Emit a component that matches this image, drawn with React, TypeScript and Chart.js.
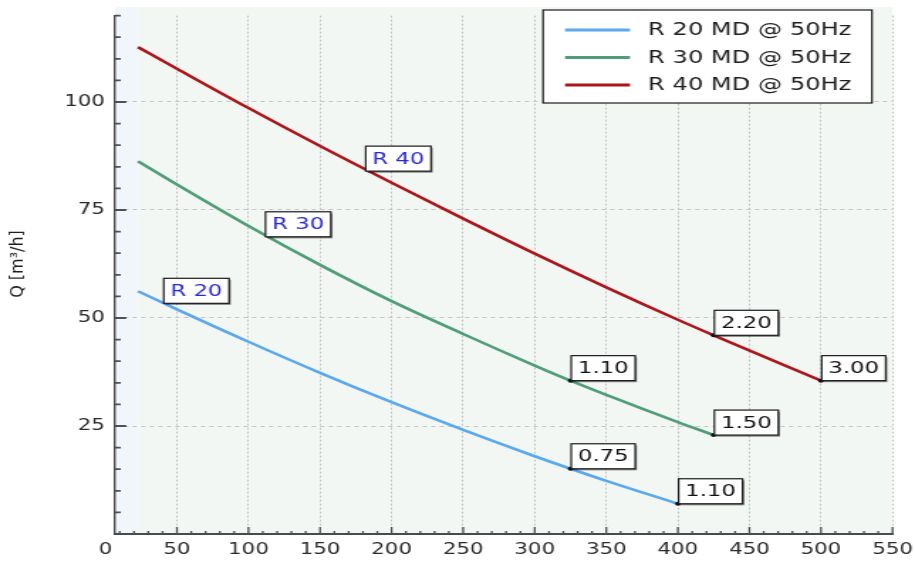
import React, { useEffect, useRef } from 'react';
import { Chart, registerables } from 'chart.js';

Chart.register(...registerables);

// The reference is a horizontally stretched picture: draw at CANVAS_W and stretch to VIEW_W.
const VIEW_W = 915;
const VIEW_H = 561;
const CANVAS_W = 644;
const FONT = '"DejaVu Sans", Verdana, sans-serif';

// ---- data ----
const seriesLabels = ['R 20 MD @ 50Hz', 'R 30 MD @ 50Hz', 'R 40 MD @ 50Hz'];
const seriesColors = ['#5aa8ef', '#4f9e78', '#ad151a'];

const r20X = [22.8, 50, 100, 150, 200, 250, 300, 325, 350, 400];
const r20Y = [56.2, 52.0, 44.5, 37.3, 30.5, 24.1, 18.0, 15.1, 12.3, 7.0];
const r30X = [22.8, 50, 100, 150, 200, 250, 300, 325, 350, 400, 425];
const r30Y = [86.3, 80.9, 71.3, 62.3, 53.9, 46.3, 39.0, 35.5, 32.2, 25.9, 22.9];
const r40X = [22.8, 50, 100, 150, 200, 250, 300, 350, 400, 425, 500];
const r40Y = [112.7, 107.7, 98.6, 89.8, 81.3, 73.0, 64.9, 57.1, 49.6, 46.0, 35.5];

// power labels (kW) at points of the curves
const powerSeries = [0, 0, 1, 1, 2, 2];
const powerX = [325, 400, 325, 425, 425, 500];
const powerText = ['0.75', '1.10', '1.10', '1.50', '2.20', '3.00'];

// model tags
const tagText = ['R 20', 'R 30', 'R 40'];
const tagX = [40.3, 111.4, 181.4];
const tagY = [53.4, 68.8, 84.0];

// axes
const xMin = 6.7;
const xMax = 550;
const plotStartX = 22.8;
const xLabelTicks = [0, 50, 100, 150, 200, 250, 300, 350, 400, 450, 500, 550];
const xMinorStep = 10;
const yMin = 0;
const yMax = 120;
const yLabelTicks = [25, 50, 75, 100];
const yMinorStep = 5;
const yTitle = 'Q [m³/h]';

const seriesX = [r20X, r30X, r40X];
const seriesY = [r20Y, r30Y, r40Y];

function buildTicks(from: number, to: number, step: number) {
  const out: { value: number }[] = [];
  for (let v = from; v <= to + 1e-9; v += step) out.push({ value: v });
  return out;
}

function drawBox(ctx: CanvasRenderingContext2D, px: number, py: number, text: string, color: string) {
  ctx.font = `16px ${FONT}`;
  const tw = ctx.measureText(text).width;
  const pad = 4.7;
  const w = tw + pad * 2;
  const h = 25;
  const left = px + 0.5;
  const top = py - h;
  ctx.fillStyle = 'rgba(0,0,0,0.45)';
  ctx.fillRect(left + 1.2, top + 1.6, w, h);
  ctx.fillStyle = '#ffffff';
  ctx.fillRect(left, top, w, h);
  ctx.strokeStyle = '#1a1a1a';
  ctx.lineWidth = 1.2;
  ctx.strokeRect(left, top, w, h);
  ctx.fillStyle = color;
  ctx.textAlign = 'left';
  ctx.textBaseline = 'middle';
  ctx.fillText(text, left + pad, top + h / 2 + 1);
}

const decor = {
  id: 'decor',
  beforeDraw(chart: any) {
    const { ctx, chartArea: ca, scales } = chart;
    const x = scales.x;
    const y = scales.y;
    const xs = x.getPixelForValue(plotStartX);
    const top = y.getPixelForValue(122);
    ctx.save();
    ctx.fillStyle = '#f1f6fc';
    ctx.fillRect(ca.left, top, xs - ca.left, ca.bottom - top);
    ctx.fillStyle = '#f3f7f3';
    ctx.fillRect(xs, top, ca.right - xs, ca.bottom - top);
    ctx.restore();
  },
  afterDraw(chart: any) {
    const { ctx, chartArea: ca, scales } = chart;
    const x = scales.x;
    const y = scales.y;
    ctx.save();
    // inside tick marks
    ctx.strokeStyle = '#505050';
    ctx.lineWidth = 1.3;
    ctx.beginPath();
    x.ticks.forEach((t: any) => {
      if (t.value <= xMin || t.value > xMax) return;
      const px = x.getPixelForValue(t.value);
      const len = xLabelTicks.includes(t.value) ? 7 : 3;
      ctx.moveTo(px, ca.bottom);
      ctx.lineTo(px, ca.bottom - len);
    });
    ctx.stroke();
    ctx.lineWidth = 1.8;
    ctx.beginPath();
    y.ticks.forEach((t: any) => {
      if (t.value <= yMin) return;
      const py = y.getPixelForValue(t.value);
      const len = yLabelTicks.includes(t.value) ? 8 : 4;
      ctx.moveTo(ca.left, py);
      ctx.lineTo(ca.left + len, py);
    });
    ctx.stroke();

    // y axis title (narrow glyphs, as in the reference)
    ctx.save();
    ctx.translate(12.4, 264);
    ctx.rotate(-Math.PI / 2);
    ctx.scale(1, 0.78);
    ctx.font = `16px ${FONT}`;
    ctx.fillStyle = '#1e1e1e';
    ctx.textAlign = 'center';
    ctx.textBaseline = 'middle';
    ctx.fillText(yTitle, 0, 0);
    ctx.restore();

    // model tags
    tagText.forEach((txt, i) => {
      drawBox(ctx, x.getPixelForValue(tagX[i]), y.getPixelForValue(tagY[i]), txt, '#2a2ad4');
    });
    // power labels
    powerText.forEach((txt, k) => {
      const s = powerSeries[k];
      const idx = seriesX[s].indexOf(powerX[k]);
      drawBox(ctx, x.getPixelForValue(powerX[k]), y.getPixelForValue(seriesY[s][idx]), txt, '#111111');
    });

    // legend
    const lw = 231.5;
    const lh = 93;
    const lx = ca.right - 246.0;
    const ly = ca.top - 5.6;
    ctx.fillStyle = '#ffffff';
    ctx.fillRect(lx, ly, lw, lh);
    ctx.strokeStyle = '#1a1a1a';
    ctx.lineWidth = 1.2;
    ctx.strokeRect(lx, ly, lw, lh);
    ctx.font = `17px ${FONT}`;
    ctx.textAlign = 'left';
    ctx.textBaseline = 'middle';
    chart.data.datasets.forEach((ds: any, i: number) => {
      const cy = ly + 20 + i * 27.5;
      ctx.strokeStyle = ds.borderColor;
      ctx.lineWidth = 2.8;
      ctx.beginPath();
      ctx.moveTo(lx + 15.5, cy);
      ctx.lineTo(lx + 61.2, cy);
      ctx.stroke();
      ctx.fillStyle = '#1e1e1e';
      ctx.fillText(ds.label, lx + 73.9, cy + 1);
    });
    ctx.restore();
  },
};

export default function App() {
  const ref = useRef<HTMLCanvasElement>(null);

  useEffect(() => {
    const canvas = ref.current;
    if (!canvas) return;
    Chart.defaults.font.family = FONT;

    const datasets = seriesLabels.map((label, i) => ({
      label,
      data: seriesX[i].map((xv, j) => ({ x: xv, y: seriesY[i][j] })),
      borderColor: seriesColors[i],
      backgroundColor: seriesColors[i],
      borderWidth: 2.6,
      cubicInterpolationMode: 'monotone' as const,
      fill: false,
      pointRadius: (c: any) => {
        const xv = c.raw ? c.raw.x : undefined;
        return powerX.some((px, k) => powerSeries[k] === i && px === xv) ? 2 : 0;
      },
      pointHoverRadius: 0,
      pointBackgroundColor: '#111111',
      pointBorderWidth: 0,
    }));

    const chart = new Chart(canvas, {
      type: 'line',
      data: { datasets },
      plugins: [decor],
      options: {
        animation: false,
        responsive: false,
        events: [],
        layout: { padding: { top: 15.6, right: 15.8, left: 0, bottom: 0 } },
        plugins: {
          legend: { display: false },
          tooltip: { enabled: false },
          title: { display: false },
        },
        scales: {
          x: {
            type: 'linear',
            min: xMin,
            max: xMax,
            afterBuildTicks: (scale: any) => {
              scale.ticks = buildTicks(0, xMax, xMinorStep);
            },
            afterFit: (scale: any) => {
              scale.height = 27;
              scale.paddingLeft = 0;
              scale.paddingRight = 0;
            },
            ticks: {
              autoSkip: false,
              maxRotation: 0,
              padding: 7,
              color: '#2a2a2a',
              font: { size: 15 },
              callback: (v: any) => (xLabelTicks.includes(Number(v)) ? String(v) : ''),
            },
            grid: {
              drawTicks: false,
              lineWidth: 1,
              color: (c: any) =>
                c.tick && xLabelTicks.includes(c.tick.value) && c.tick.value > xMin ? '#c4c4c4' : 'rgba(0,0,0,0)',
            },
            border: { display: true, color: '#4a4a4a', width: 2, dash: [2, 2] },
          },
          y: {
            type: 'linear',
            min: yMin,
            max: yMax,
            afterBuildTicks: (scale: any) => {
              scale.ticks = buildTicks(yMin, yMax, yMinorStep);
            },
            afterFit: (scale: any) => {
              scale.width = 80.9;
              scale.paddingTop = 0;
              scale.paddingBottom = 0;
            },
            title: { display: false },
            ticks: {
              autoSkip: false,
              padding: 7,
              color: '#2a2a2a',
              font: { size: 15 },
              callback: (v: any) => (yLabelTicks.includes(Number(v)) ? String(v) : ''),
            },
            grid: {
              drawTicks: false,
              lineWidth: 1,
              color: (c: any) =>
                c.tick && yLabelTicks.includes(c.tick.value) ? '#c4c4c4' : 'rgba(0,0,0,0)',
            },
            border: { display: true, color: '#4a4a4a', width: 1.4, dash: [3, 3] },
          },
        },
      } as any,
    });

    return () => chart.destroy();
  }, []);

  return (
    <canvas
      ref={ref}
      width={CANVAS_W}
      height={VIEW_H}
      style={{ position: 'fixed', left: 0, top: 0, width: `${VIEW_W}px`, height: `${VIEW_H}px` }}
    />
  );
}
